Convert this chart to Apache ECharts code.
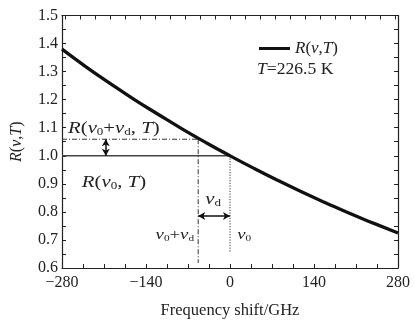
<!DOCTYPE html>
<html><head><meta charset="utf-8">
<script src="https://cdn.jsdelivr.net/npm/echarts@6/dist/echarts.min.js"></script>
<style>html,body{margin:0;padding:0;background:#fff}#c{width:415px;height:320px}</style>
</head><body><div id="c"></div>
<script>
// Curve R(nu,T)
const freq = [-280,-240,-200,-160,-120,-80,-40,0,40,80,120,160,200,240,280];
const R    = [1.38,1.317,1.258,1.201,1.148,1.096,1.047,1.0,0.955,0.912,0.871,0.832,0.794,0.759,0.725];
// guide lines
const nuD = -53;          // nu0 + nud position
const Rd = 1.059;         // R(nu0+nud,T)
const solidLine = [[-280,1.0],[0,1.0]];
const dashH = [[-280,Rd],[nuD,Rd]];
const dashV = [[nuD,Rd],[nuD,0.618]];
const dotV = [[0,1.0],[0,0.654]];
const xTicks = [-280,-140,0,140,280];
const yTicks = [0.6,0.7,0.8,0.9,1.0,1.1,1.2,1.3,1.4,1.5];
const topTicks = [];
for (let v=-275; v<=275; v+=25) topTicks.push(v);

const FONT = 'Liberation Serif';
const TXT = '#222';
const chart = echarts.init(document.getElementById('c'), null, {renderer:'canvas'});
const tick = {inside:true, length:4, lineStyle:{color:'#222', width:1}};
const axLine = {onZero:false, lineStyle:{color:'#222', width:1.2}};
const option = {
  animation:false,
  grid:{left:62, right:17, top:15.5, bottom:52, containLabel:false, outerBoundsMode:'none'},
  xAxis:[
    {type:'value', min:-280, max:280, interval:140, position:'bottom',
     axisLine:axLine, axisTick:tick, minorTick:{show:true, splitNumber:4, length:4, lineStyle:{color:'#222'}},
     splitLine:{show:false},
     axisLabel:{fontFamily:FONT, fontSize:16, color:TXT, margin:7, formatter:v=>String(v).replace('-','\u2212')},
     name:'Frequency shift/GHz', nameLocation:'middle', nameGap:34,
     nameTextStyle:{fontFamily:FONT, fontSize:16.5, color:TXT}},
    {type:'value', min:-280, max:280, position:'top',
     axisLine:axLine, axisTick:Object.assign({}, tick, {customValues:topTicks}),
     axisLabel:{show:false}, splitLine:{show:false}}
  ],
  yAxis:[
    {type:'value', min:0.6, max:1.5, interval:0.1, position:'left',
     axisLine:axLine, axisTick:tick, minorTick:{show:true, splitNumber:2, length:4, lineStyle:{color:'#222'}},
     splitLine:{show:false},
     axisLabel:{fontFamily:FONT, fontSize:16, color:TXT, margin:4, formatter:v=>v.toFixed(1)},
     name:'{i|R}({i|ν},{i|T})', nameLocation:'middle', nameGap:37, nameRotate:90,
     nameTextStyle:{fontFamily:FONT, fontSize:16, color:TXT, rich:{i:{fontFamily:FONT, fontSize:16, fontStyle:'italic', color:TXT}}}},
    {type:'value', min:0.6, max:1.5, interval:0.05, position:'right',
     axisLine:axLine, axisTick:tick, axisLabel:{show:false}, splitLine:{show:false}}
  ],
  legend:{show:true, data:[{name:'R', icon:'rect'}], left:254, top:35, itemWidth:31, itemHeight:3, itemGap:4,
    formatter:()=>'{i|R}({i|ν},{i|T})',
    textStyle:{fontFamily:FONT, fontSize:17, color:TXT, rich:{i:{fontFamily:FONT, fontSize:17, fontStyle:'italic', color:TXT}}}},
  series:[
    {name:'R', type:'line', data:freq.map((f,i)=>[f,R[i]]), smooth:true, symbol:'none', showSymbol:false,
     color:'#111', lineStyle:{color:'#111', width:3.3}, z:5},
    {name:'solid', type:'line', data:solidLine, symbol:'none', lineStyle:{color:'#444', width:1.6}},
    {name:'dashH', type:'line', data:dashH, symbol:'none', lineStyle:{color:'#333', width:1, type:[5,2,1,2]}},
    {name:'dashV', type:'line', data:dashV, symbol:'none', lineStyle:{color:'#333', width:1, type:[5,2,1,2]}},
    {name:'dotV', type:'line', data:dotV, symbol:'none', lineStyle:{color:'#333', width:1, type:[1.2,1.5]}},
    {name:'arrows', type:'line', data:[], symbol:'none',
     markLine:{silent:true, symbol:['arrow','arrow'], symbolSize:[6,7], label:{show:false},
       lineStyle:{color:'#111', width:1.5, type:'solid'},
       data:[
         [{coord:[-207,1.0]},{coord:[-207,Rd]}],
         [{coord:[nuD,0.785]},{coord:[0,0.785]}]
       ]}}
  ]
};
chart.setOption(option);

function richFor(fs){
  return {
    i:{fontFamily:FONT, fontSize:fs, fontStyle:'italic', fill:TXT},
    s:{fontFamily:FONT, fontSize:Math.round(fs*0.62), fill:TXT, verticalAlign:'bottom', padding:[Math.round(fs*0.45),0,0,0]}
  };
}
function lab(f, r, text, align, fs, sx){
  const p = chart.convertToPixel({gridIndex:0}, [f, r]);
  return {type:'text', x:p[0], y:p[1], z:10, scaleX:sx, scaleY:1,
    style:{text:text, align:align||'left', verticalAlign:'middle', fontFamily:FONT, fontSize:fs, fill:TXT, rich:richFor(fs)}};
}
chart.setOption({graphic:[
  lab(-270, 1.097, '{i|R}({i|ν}{s|0}+{i|ν}{s|d}, {i|T})', 'left', 16, 1.3),
  lab(-247, 0.905, '{i|R}({i|ν}{s|0}, {i|T})', 'left', 16, 1.3),
  lab(-28, 0.842, '{i|ν}{s|d}', 'center', 16, 1.3),
  lab(-92, 0.718, '{i|ν}{s|0}+{i|ν}{s|d}', 'center', 15, 1.25),
  lab(12, 0.718, '{i|ν}{s|0}', 'left', 15, 1.25),
  lab(45, 1.305, '{i|T}=226.5 K', 'left', 16, 1.1)
]});
</script></body></html>
